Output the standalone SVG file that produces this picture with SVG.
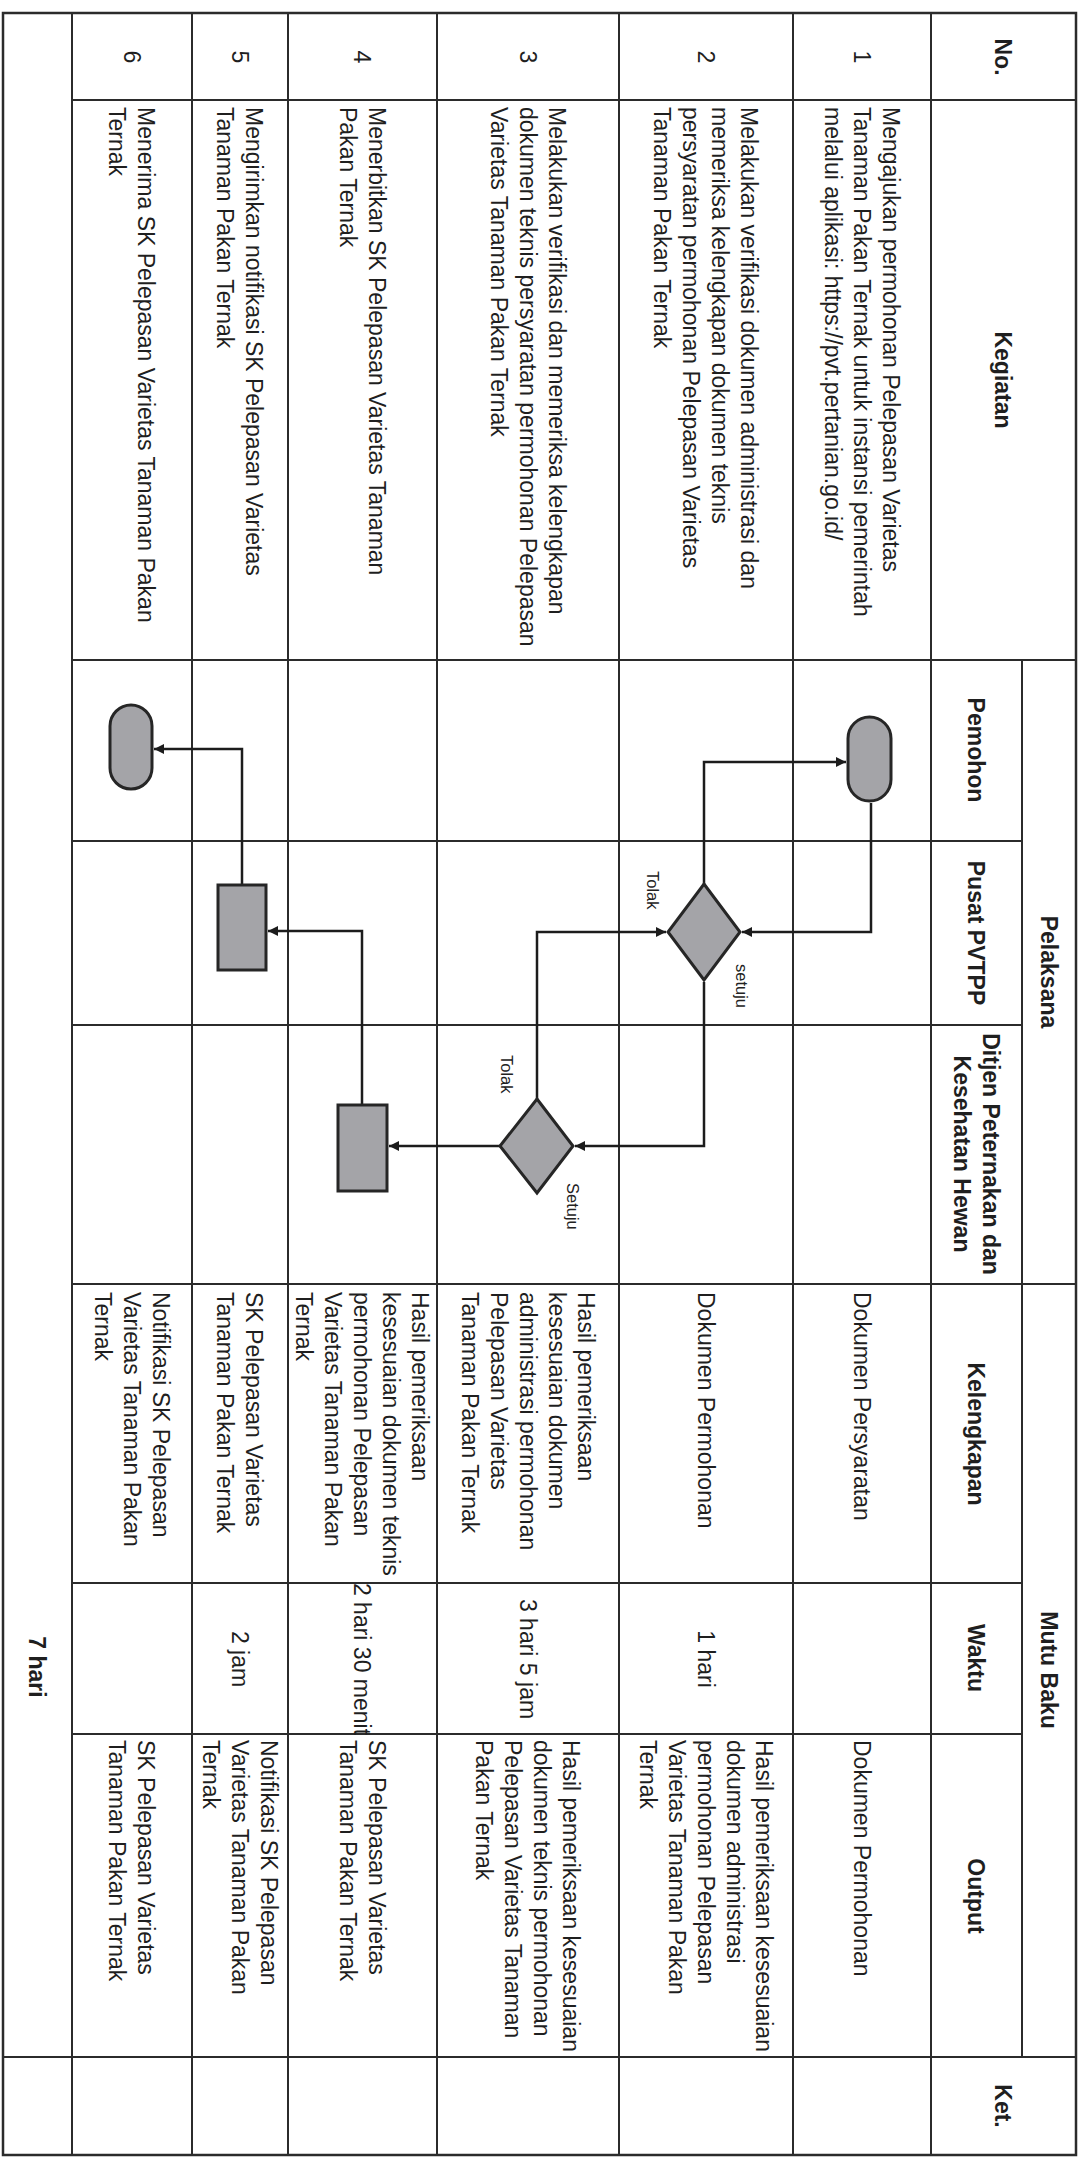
<svg xmlns="http://www.w3.org/2000/svg" width="1083" height="2158" viewBox="0 0 1083 2158">
<style>
.grid line{stroke:#2b2b2b;stroke-width:2}
.t{font-family:"Liberation Sans",Arial,sans-serif;font-size:23px;fill:#1f1f1f}
.b{font-weight:bold}
.c{text-anchor:middle}
.lbl{font-family:"Liberation Sans",Arial,sans-serif;font-size:16.5px;fill:#222}
.shape{fill:#a4a4a8;stroke:#262626;stroke-width:3}
.conn path{fill:none;stroke:#1c1c1c;stroke-width:2.5;marker-end:url(#ah)}
</style>
<defs>
<marker id="ah" viewBox="0 0 10 10" refX="10" refY="5" markerWidth="11" markerHeight="10" markerUnits="userSpaceOnUse" orient="auto">
<path d="M0,0 L10,5 L0,10 z" fill="#1c1c1c"/>
</marker>
</defs>
<rect width="1083" height="2158" fill="#ffffff"/>

<g id="table" class="grid">
<rect x="3" y="13" width="1073" height="2142" fill="none" stroke="#2b2b2b" stroke-width="2.5"/>
<line x1="72" y1="13" x2="72" y2="2155"/>
<line x1="192" y1="13" x2="192" y2="2155"/>
<line x1="288" y1="13" x2="288" y2="2155"/>
<line x1="437" y1="13" x2="437" y2="2155"/>
<line x1="619" y1="13" x2="619" y2="2155"/>
<line x1="793" y1="13" x2="793" y2="2155"/>
<line x1="931" y1="13" x2="931" y2="2155"/>
<line x1="1022" y1="660" x2="1022" y2="2057"/>
<line x1="72" y1="100" x2="1076" y2="100"/>
<line x1="72" y1="660" x2="1076" y2="660"/>
<line x1="72" y1="841" x2="1022" y2="841"/>
<line x1="72" y1="1025" x2="1022" y2="1025"/>
<line x1="72" y1="1284" x2="1076" y2="1284"/>
<line x1="72" y1="1583" x2="1022" y2="1583"/>
<line x1="72" y1="1734" x2="1022" y2="1734"/>
<line x1="3" y1="2057" x2="1076" y2="2057"/>
</g>

<g id="headers" class="t b">
<text class="c" transform="translate(995,57) rotate(90)">No.</text>
<text class="c" transform="translate(995,380) rotate(90)">Kegiatan</text>
<text class="c" transform="translate(1041,972) rotate(90)">Pelaksana</text>
<text class="c" transform="translate(968,750) rotate(90)">Pemohon</text>
<text class="c" transform="translate(968,933) rotate(90)">Pusat PVTPP</text>
<text class="c" transform="translate(983,1154) rotate(90)">Ditjen Peternakan dan<tspan x="0" dy="29">Kesehatan Hewan</tspan></text>
<text class="c" transform="translate(1041,1670) rotate(90)">Mutu Baku</text>
<text class="c" transform="translate(968,1434) rotate(90)">Kelengkapan</text>
<text class="c" transform="translate(968,1658) rotate(90)">Waktu</text>
<text class="c" transform="translate(968,1896) rotate(90)">Output</text>
<text class="c" transform="translate(995,2106) rotate(90)">Ket.</text>
<text class="c" transform="translate(29,1667) rotate(90)">7 hari</text>
</g>

<g id="nomor" class="t c">
<text transform="translate(854,57) rotate(90)">1</text>
<text transform="translate(698,57) rotate(90)">2</text>
<text transform="translate(520,57) rotate(90)">3</text>
<text transform="translate(354,57) rotate(90)">4</text>
<text transform="translate(232,57) rotate(90)">5</text>
<text transform="translate(124,57) rotate(90)">6</text>
</g>

<g id="kegiatan" class="t">
<text transform="translate(883,107) rotate(90)">Mengajukan permohonan Pelepasan Varietas<tspan x="0" dy="29">Tanaman Pakan Ternak untuk instansi pemerintah</tspan><tspan x="0" dy="29">melalui aplikasi: https://pvt.pertanian.go.id/</tspan></text>
<text transform="translate(741,107) rotate(90)">Melakukan verifikasi dokumen administrasi dan<tspan x="0" dy="29">memeriksa kelengkapan dokumen teknis</tspan><tspan x="0" dy="29">persyaratan permohonan Pelepasan Varietas</tspan><tspan x="0" dy="29">Tanaman Pakan Ternak</tspan></text>
<text transform="translate(549,107) rotate(90)">Melakukan verifikasi dan memeriksa kelengkapan<tspan x="0" dy="29">dokumen teknis persyaratan permohonan Pelepasan</tspan><tspan x="0" dy="29">Varietas Tanaman Pakan Ternak</tspan></text>
<text transform="translate(369,107) rotate(90)">Menerbitkan SK Pelepasan Varietas Tanaman<tspan x="0" dy="29">Pakan Ternak</tspan></text>
<text transform="translate(246,107) rotate(90)">Mengirimkan notifikasi SK Pelepasan Varietas<tspan x="0" dy="29">Tanaman Pakan Ternak</tspan></text>
<text transform="translate(138,107) rotate(90)">Menerima SK Pelepasan Varietas Tanaman Pakan<tspan x="0" dy="29">Ternak</tspan></text>
</g>

<g id="kelengkapan" class="t">
<text transform="translate(854,1292) rotate(90)">Dokumen Persyaratan</text>
<text transform="translate(698,1292) rotate(90)">Dokumen Permohonan</text>
<text transform="translate(578,1292) rotate(90)">Hasil pemeriksaan<tspan x="0" dy="29">kesesuaian dokumen</tspan><tspan x="0" dy="29">administrasi permohonan</tspan><tspan x="0" dy="29">Pelepasan Varietas</tspan><tspan x="0" dy="29">Tanaman Pakan Ternak</tspan></text>
<text transform="translate(412,1292) rotate(90)">Hasil pemeriksaan<tspan x="0" dy="29">kesesuaian dokumen teknis</tspan><tspan x="0" dy="29">permohonan Pelepasan</tspan><tspan x="0" dy="29">Varietas Tanaman Pakan</tspan><tspan x="0" dy="29">Ternak</tspan></text>
<text transform="translate(246,1292) rotate(90)">SK Pelepasan Varietas<tspan x="0" dy="29">Tanaman Pakan Ternak</tspan></text>
<text transform="translate(153,1292) rotate(90)">Notifikasi SK Pelepasan<tspan x="0" dy="29">Varietas Tanaman Pakan</tspan><tspan x="0" dy="29">Ternak</tspan></text>
</g>

<g id="waktu" class="t c">
<text transform="translate(698,1659) rotate(90)">1 hari</text>
<text transform="translate(520,1659) rotate(90)">3 hari 5 jam</text>
<text transform="translate(354,1659) rotate(90)">2 hari 30 menit</text>
<text transform="translate(232,1659) rotate(90)">2 jam</text>
</g>

<g id="output" class="t">
<text transform="translate(854,1740) rotate(90)">Dokumen Permohonan</text>
<text transform="translate(756,1740) rotate(90)">Hasil pemeriksaan kesesuaian<tspan x="0" dy="29">dokumen administrasi</tspan><tspan x="0" dy="29">permohonan Pelepasan</tspan><tspan x="0" dy="29">Varietas Tanaman Pakan</tspan><tspan x="0" dy="29">Ternak</tspan></text>
<text transform="translate(563,1740) rotate(90)">Hasil pemeriksaan kesesuaian<tspan x="0" dy="29">dokumen teknis permohonan</tspan><tspan x="0" dy="29">Pelepasan Varietas Tanaman</tspan><tspan x="0" dy="29">Pakan Ternak</tspan></text>
<text transform="translate(369,1740) rotate(90)">SK Pelepasan Varietas<tspan x="0" dy="29">Tanaman Pakan Ternak</tspan></text>
<text transform="translate(261,1740) rotate(90)">Notifikasi SK Pelepasan<tspan x="0" dy="29">Varietas Tanaman Pakan</tspan><tspan x="0" dy="29">Ternak</tspan></text>
<text transform="translate(138,1740) rotate(90)">SK Pelepasan Varietas<tspan x="0" dy="29">Tanaman Pakan Ternak</tspan></text>
</g>

<g id="connectors" class="conn">
<path d="M871,803 V932 H742"/>
<path d="M704,884 V762 H846"/>
<path d="M704,982 V1146 H575"/>
<path d="M537,1099 V932 H666"/>
<path d="M500,1146 H389"/>
<path d="M362,1105 V931 H268"/>
<path d="M242,885 V749 H154"/>
</g>

<g id="edge-labels" class="lbl">
<text transform="translate(647,871) rotate(90)">Tolak</text>
<text transform="translate(736,964) rotate(90)">setuju</text>
<text transform="translate(501,1055) rotate(90)">Tolak</text>
<text transform="translate(567,1183) rotate(90)">Setuju</text>
</g>

<g id="start-pemohon"><rect class="shape" x="848" y="717" width="43" height="84" rx="21.5"/></g>
<g id="decision-pvtpp"><polygon class="shape" points="704,884 740,932 704,980 668,932"/></g>
<g id="decision-ditjen"><polygon class="shape" points="537,1099 573,1146 537,1193 500,1146"/></g>
<g id="process-ditjen"><rect class="shape" x="338" y="1105" width="49" height="86"/></g>
<g id="process-pvtpp"><rect class="shape" x="218" y="885" width="48" height="85"/></g>
<g id="end-pemohon"><rect class="shape" x="110" y="705" width="42" height="84" rx="21"/></g>
</svg>
